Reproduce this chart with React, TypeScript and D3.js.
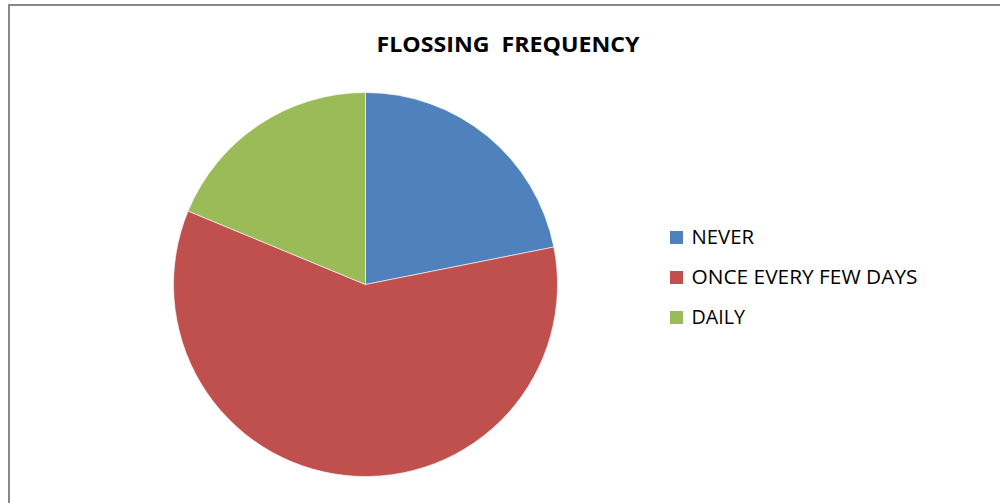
import React from "react";
import * as d3 from "d3";

const categories = ["NEVER", "ONCE EVERY FEW DAYS", "DAILY"];
const counts = [35, 95, 30];
const colors = ["#4F81BD", "#C0504D", "#9BBB59"];
const title = "FLOSSING  FREQUENCY";

const W = 1000;
const H = 503;
const cx = 365.5;
const cy = 284.5;
const radius = 192;

// approximate rendered widths of legend labels
const labelWidths = [62.5, 226, 53.5];

export default function App() {
  const data = categories.map((c, i) => ({ name: c, value: counts[i], color: colors[i] }));
  const pie = d3
    .pie<{ name: string; value: number; color: string }>()
    .sort(null)
    .value((d) => d.value)
    .startAngle(0)
    .endAngle(2 * Math.PI);
  const arcs = pie(data);
  const arc = d3
    .arc<d3.PieArcDatum<{ name: string; value: number; color: string }>>()
    .innerRadius(0)
    .outerRadius(radius);

  const legendY = d3.scalePoint<string>().domain(categories).range([244, 324]);

  return (
    <svg
      width={W}
      height={H}
      style={{ position: "absolute", left: 0, top: 0, background: "#fff" }}
      fontFamily="'Open Sans', 'Liberation Sans', sans-serif"
    >
      <rect x={0} y={0} width={W} height={H} fill="#fff" />
      <rect x={9} y={5} width={1200} height={700} fill="none" stroke="#888888" strokeWidth={2} />
      <text
        x={376.5}
        y={52.3}
        fontSize={20.5}
        fontWeight="bold"
        fill="#000"
        textLength={263}
        lengthAdjust="spacingAndGlyphs"
        style={{ whiteSpace: "pre" }}
      >
        {title}
      </text>
      <g transform={`translate(${cx},${cy})`}>
        {arcs.map((a, i) => (
          <path key={i} d={arc(a) || ""} fill={a.data.color} stroke="#ffffff" strokeWidth={0.6} />
        ))}
      </g>
      <g>
        {data.map((d, i) => {
          const y = legendY(d.name) as number;
          return (
            <g key={d.name}>
              <rect x={670} y={y - 13} width={13} height={13} fill={d.color} />
              <text
                x={691.5}
                y={y}
                fontSize={19.5}
                fill="#000"
                textLength={labelWidths[i]}
                lengthAdjust="spacingAndGlyphs"
              >
                {d.name}
              </text>
            </g>
          );
        })}
      </g>
    </svg>
  );
}
